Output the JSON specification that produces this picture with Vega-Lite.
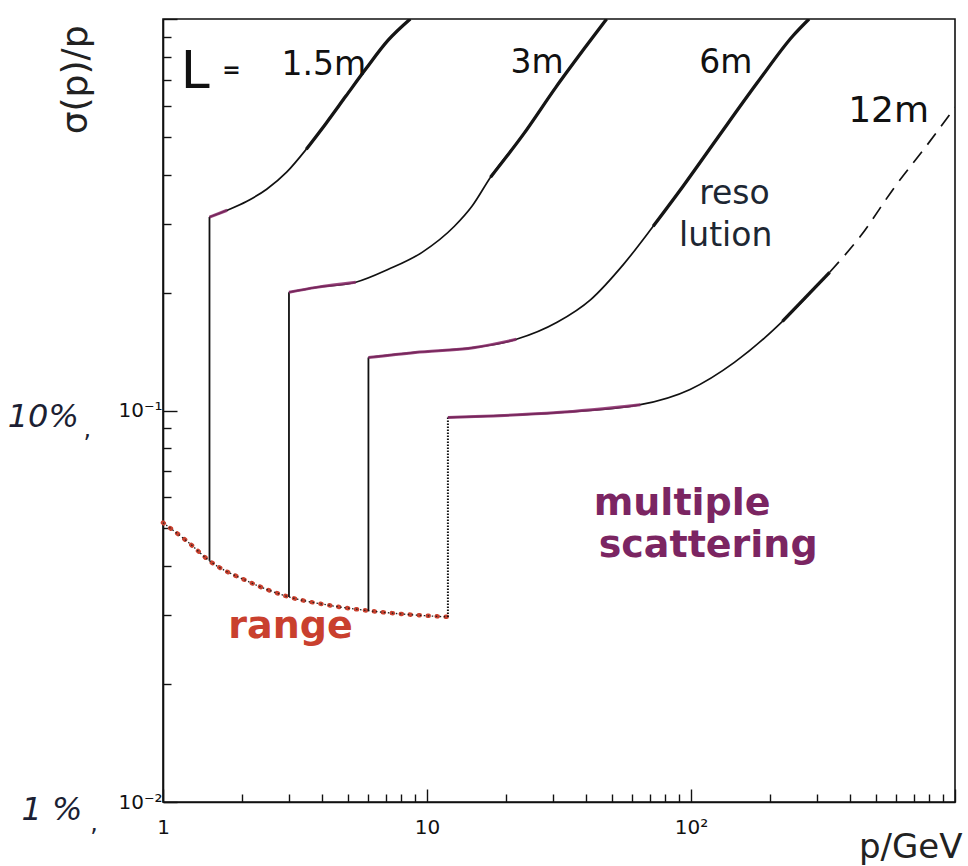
{
  "$schema": "https://vega.github.io/schema/vega-lite/v6.json",
  "width": 792,
  "height": 783,
  "autosize": "none",
  "padding": {"left": 163, "top": 19, "right": 13, "bottom": 64},
  "background": "white",
  "config": {
    "view": {"stroke": "#111", "strokeWidth": 1.6},
    "axis": {"grid": false, "domainColor": "#111", "domainWidth": 1.6, "tickColor": "#111", "tickWidth": 1.4, "labelColor": "#111", "titleColor": "#222", "labelOverlap": false, "labelFlush": false, "labelBound": false, "labelFont": "DejaVu Sans", "labelFontSize": 20}
  },
  "datasets": {
    "curves": [
      {"id": "1.5m", "k": "drop", "o": 0, "p": 1.5, "s": 0.0413},
      {"id": "1.5m", "k": "drop", "o": 1, "p": 1.5, "s": 0.312},
      {"id": "3m", "k": "drop", "o": 0, "p": 3, "s": 0.0334},
      {"id": "3m", "k": "drop", "o": 1, "p": 3, "s": 0.2004},
      {"id": "6m", "k": "drop", "o": 0, "p": 6, "s": 0.0308},
      {"id": "6m", "k": "drop", "o": 1, "p": 6, "s": 0.1366},
      {"id": "12m", "k": "stop", "o": 0, "p": 12, "s": 0.0297},
      {"id": "12m", "k": "stop", "o": 1, "p": 12, "s": 0.096},
      {"id": "1.5m", "k": "res", "p": 1.5, "s": 0.312},
      {"id": "1.5m", "k": "res", "p": 1.75, "s": 0.3247},
      {"id": "1.5m", "k": "res", "p": 2.08, "s": 0.3424},
      {"id": "1.5m", "k": "res", "p": 2.47, "s": 0.3674},
      {"id": "1.5m", "k": "res", "p": 2.94, "s": 0.4062},
      {"id": "1.5m", "k": "res", "p": 3.49, "s": 0.4651},
      {"id": "1.5m", "k": "res", "p": 4.15, "s": 0.542},
      {"id": "1.5m", "k": "res", "p": 4.93, "s": 0.6355},
      {"id": "1.5m", "k": "res", "p": 5.86, "s": 0.745},
      {"id": "1.5m", "k": "res", "p": 7.14, "s": 0.884},
      {"id": "1.5m", "k": "res", "p": 8.64, "s": 1.0},
      {"id": "3m", "k": "res", "p": 3, "s": 0.2004},
      {"id": "3m", "k": "res", "p": 3.81, "s": 0.2063},
      {"id": "3m", "k": "res", "p": 5.37, "s": 0.2126},
      {"id": "3m", "k": "res", "p": 7.14, "s": 0.2294},
      {"id": "3m", "k": "res", "p": 9.58, "s": 0.2535},
      {"id": "3m", "k": "res", "p": 12.7, "s": 0.2955},
      {"id": "3m", "k": "res", "p": 14.8, "s": 0.3324},
      {"id": "3m", "k": "res", "p": 17.4, "s": 0.3944},
      {"id": "3m", "k": "res", "p": 23.2, "s": 0.508},
      {"id": "3m", "k": "res", "p": 30.8, "s": 0.67},
      {"id": "3m", "k": "res", "p": 39.3, "s": 0.838},
      {"id": "3m", "k": "res", "p": 47.9, "s": 1.0},
      {"id": "6m", "k": "res", "p": 6, "s": 0.1366},
      {"id": "6m", "k": "res", "p": 9.02, "s": 0.1407},
      {"id": "6m", "k": "res", "p": 15.2, "s": 0.1449},
      {"id": "6m", "k": "res", "p": 21.8, "s": 0.152},
      {"id": "6m", "k": "res", "p": 31.1, "s": 0.168},
      {"id": "6m", "k": "res", "p": 41.7, "s": 0.192},
      {"id": "6m", "k": "res", "p": 55.5, "s": 0.2362},
      {"id": "6m", "k": "res", "p": 71.9, "s": 0.2955},
      {"id": "6m", "k": "res", "p": 93.3, "s": 0.374},
      {"id": "6m", "k": "res", "p": 125, "s": 0.493},
      {"id": "6m", "k": "res", "p": 179, "s": 0.69},
      {"id": "6m", "k": "res", "p": 243, "s": 0.905},
      {"id": "6m", "k": "res", "p": 280, "s": 1.0},
      {"id": "12m", "k": "res", "p": 12, "s": 0.096},
      {"id": "12m", "k": "res", "p": 15.2, "s": 0.0965},
      {"id": "12m", "k": "res", "p": 31.1, "s": 0.0988},
      {"id": "12m", "k": "res", "p": 64.3, "s": 0.1035},
      {"id": "12m", "k": "res", "p": 99.2, "s": 0.1132},
      {"id": "12m", "k": "res", "p": 146, "s": 0.1327},
      {"id": "12m", "k": "res", "p": 191, "s": 0.1537},
      {"id": "12m", "k": "res", "p": 222, "s": 0.1689},
      {"id": "12m", "k": "res", "p": 335, "s": 0.2254},
      {"id": "12m", "k": "ext", "p": 335, "s": 0.2254},
      {"id": "12m", "k": "ext", "p": 438, "s": 0.2786},
      {"id": "12m", "k": "ext", "p": 594, "s": 0.374},
      {"id": "12m", "k": "ext", "p": 778, "s": 0.4733},
      {"id": "12m", "k": "ext", "p": 1000, "s": 0.595},
      {"id": "range", "k": "range", "p": 1, "s": 0.0517},
      {"id": "range", "k": "range", "p": 1.25, "s": 0.046},
      {"id": "range", "k": "range", "p": 1.5, "s": 0.0413},
      {"id": "range", "k": "range", "p": 2.08, "s": 0.0367},
      {"id": "range", "k": "range", "p": 3, "s": 0.0334},
      {"id": "range", "k": "range", "p": 4.15, "s": 0.0319},
      {"id": "range", "k": "range", "p": 6, "s": 0.0308},
      {"id": "range", "k": "range", "p": 8.64, "s": 0.0301},
      {"id": "range", "k": "range", "p": 12, "s": 0.0297},
      {"id": "t1.5", "k": "trace", "p": 3.49, "s": 0.4651},
      {"id": "t1.5", "k": "trace", "p": 4.15, "s": 0.542},
      {"id": "t1.5", "k": "trace", "p": 4.93, "s": 0.6355},
      {"id": "t1.5", "k": "trace", "p": 5.86, "s": 0.745},
      {"id": "t1.5", "k": "trace", "p": 7.14, "s": 0.884},
      {"id": "t1.5", "k": "trace", "p": 8.64, "s": 1.0},
      {"id": "t3", "k": "trace", "p": 17.4, "s": 0.3944},
      {"id": "t3", "k": "trace", "p": 23.2, "s": 0.508},
      {"id": "t3", "k": "trace", "p": 30.8, "s": 0.67},
      {"id": "t3", "k": "trace", "p": 39.3, "s": 0.838},
      {"id": "t3", "k": "trace", "p": 47.9, "s": 1.0},
      {"id": "t6", "k": "trace", "p": 71.9, "s": 0.2955},
      {"id": "t6", "k": "trace", "p": 93.3, "s": 0.374},
      {"id": "t6", "k": "trace", "p": 125, "s": 0.493},
      {"id": "t6", "k": "trace", "p": 179, "s": 0.69},
      {"id": "t6", "k": "trace", "p": 243, "s": 0.905},
      {"id": "t6", "k": "trace", "p": 280, "s": 1.0},
      {"id": "t12", "k": "trace", "p": 222, "s": 0.1689},
      {"id": "t12", "k": "trace", "p": 335, "s": 0.2254},
      {"id": "m1.5", "k": "ms", "p": 1.5, "s": 0.312},
      {"id": "m1.5", "k": "ms", "p": 1.75, "s": 0.3247},
      {"id": "m3", "k": "ms", "p": 3, "s": 0.2004},
      {"id": "m3", "k": "ms", "p": 3.81, "s": 0.2063},
      {"id": "m3", "k": "ms", "p": 5.37, "s": 0.2126},
      {"id": "m6", "k": "ms", "p": 6, "s": 0.1366},
      {"id": "m6", "k": "ms", "p": 9.02, "s": 0.1407},
      {"id": "m6", "k": "ms", "p": 15.2, "s": 0.1449},
      {"id": "m6", "k": "ms", "p": 21.8, "s": 0.152},
      {"id": "m12", "k": "ms", "p": 12, "s": 0.096},
      {"id": "m12", "k": "ms", "p": 15.2, "s": 0.0965},
      {"id": "m12", "k": "ms", "p": 31.1, "s": 0.0988},
      {"id": "m12", "k": "ms", "p": 64.3, "s": 0.1035}
    ],
    "notes": [
      {"t": "L", "c": "big", "p": 1.168, "s": 0.666},
      {"t": "=", "c": "eq", "p": 1.678, "s": 0.7106},
      {"t": "1.5m", "c": "len", "p": 2.814, "s": 0.7192},
      {"t": "3m", "c": "len", "p": 20.7, "s": 0.7277},
      {"t": "6m", "c": "len", "p": 107.4, "s": 0.7277},
      {"t": "12m", "c": "len12", "p": 393.9, "s": 0.5453},
      {"t": "reso", "c": "reso", "p": 107.4, "s": 0.3364},
      {"t": "lution", "c": "reso", "p": 90.1, "s": 0.2627},
      {"t": "range", "c": "range", "p": 1.767, "s": 0.02627},
      {"t": "multiple", "c": "ms", "p": 42.8, "s": 0.0542},
      {"t": "scattering", "c": "ms", "p": 44.7, "s": 0.0423},
      {"t": "10%", "c": "pct", "p": 0.258, "s": 0.091},
      {"t": ",", "c": "comma", "p": 0.5, "s": 0.0855},
      {"t": "1 %", "c": "pct", "p": 0.2913, "s": 0.00899},
      {"t": ",", "c": "comma", "p": 0.53, "s": 0.00845}
    ]
  },
  "encoding": {
    "x": {
      "field": "p", "type": "quantitative",
      "scale": {"type": "log", "domain": [1, 1000]},
      "axis": {
        "values": [1,2,3,4,5,6,7,8,9,10,20,30,40,50,60,70,80,90,100,200,300,400,500,600,700,800,900,1000],
        "labelExpr": "datum.value == 1 ? '1' : datum.value == 10 ? '10' : datum.value == 100 ? '10²' : ''",
        "tickSize": {"condition": {"test": "datum.value == 1 || datum.value == 10 || datum.value == 100 || datum.value == 1000", "value": -13}, "value": -8},
        "labelFont": "DejaVu Sans", "labelFontSize": 20, "labelPadding": 28,
        "title": "p/GeV", "titleFont": "DejaVu Sans", "titleFontSize": 34, "titleFontWeight": "normal",
        "titleAnchor": "end", "titleAlign": "right", "titleBaseline": "alphabetic", "titleX": 799, "titleY": 55
      }
    },
    "y": {
      "field": "s", "type": "quantitative",
      "scale": {"type": "log", "domain": [0.01, 1]},
      "axis": {
        "values": [0.01,0.02,0.03,0.04,0.05,0.06,0.07,0.08,0.09,0.1,0.2,0.3,0.4,0.5,0.6,0.7,0.8,0.9,1],
        "labelExpr": "datum.value == 0.1 ? '10⁻¹' : datum.value == 0.01 ? '10⁻²' : ''",
        "tickSize": {"condition": {"test": "datum.value == 0.01 || datum.value == 0.1 || datum.value == 1", "value": -14}, "value": -8},
        "labelFont": "DejaVu Sans", "labelFontSize": 20, "labelPadding": 15, "labelBaseline": "middle",
        "title": "σ(p)/p", "titleFont": "DejaVu Sans", "titleFontSize": 36, "titleFontWeight": "normal",
        "titleAnchor": "end", "titleAlign": "right", "titleBaseline": "middle", "titleX": -88, "titleY": 6
      }
    }
  },
  "layer": [
    {
      "data": {"name": "curves"},
      "transform": [{"filter": "datum.k === 'range'"}],
      "mark": {"type": "line", "color": "#c9402e", "strokeWidth": 4.5, "strokeDash": [1, 8], "strokeCap": "round", "interpolate": "monotone"},
      "encoding": {"detail": {"field": "id"}}
    },
    {
      "data": {"name": "curves"},
      "transform": [{"filter": "datum.k === 'range'"}],
      "mark": {"type": "line", "color": "#222", "strokeWidth": 1.3, "strokeDash": [1.5, 2.5], "interpolate": "monotone"},
      "encoding": {"detail": {"field": "id"}}
    },
    {
      "data": {"name": "curves"},
      "transform": [{"filter": "datum.k === 'drop'"}],
      "mark": {"type": "line", "color": "#111", "strokeWidth": 1.8},
      "encoding": {"detail": {"field": "id"}, "order": {"field": "o"}}
    },
    {
      "data": {"name": "curves"},
      "transform": [{"filter": "datum.k === 'stop'"}],
      "mark": {"type": "line", "color": "#111", "strokeWidth": 2, "strokeDash": [1.5, 1.5]},
      "encoding": {"detail": {"field": "id"}, "order": {"field": "o"}}
    },
    {
      "data": {"name": "curves"},
      "transform": [{"filter": "datum.k === 'res'"}],
      "mark": {"type": "line", "color": "#111", "strokeWidth": 1.7, "clip": true, "interpolate": "monotone"},
      "encoding": {"detail": {"field": "id"}}
    },
    {
      "data": {"name": "curves"},
      "transform": [{"filter": "datum.k === 'ext'"}],
      "mark": {"type": "line", "color": "#111", "strokeWidth": 1.7, "strokeDash": [14, 9], "clip": true, "interpolate": "monotone"},
      "encoding": {"detail": {"field": "id"}}
    },
    {
      "data": {"name": "curves"},
      "transform": [{"filter": "datum.k === 'trace'"}],
      "mark": {"type": "line", "color": "#151515", "strokeWidth": 3.3, "clip": true, "interpolate": "monotone"},
      "encoding": {"detail": {"field": "id"}}
    },
    {
      "data": {"name": "curves"},
      "transform": [{"filter": "datum.k === 'ms'"}],
      "mark": {"type": "line", "color": "#8a2a6a", "strokeWidth": 3, "opacity": 0.85, "interpolate": "monotone"},
      "encoding": {"detail": {"field": "id"}}
    },
    {
      "data": {"name": "notes"},
      "transform": [{"filter": "datum.c === 'big'"}],
      "mark": {"type": "text", "align": "left", "baseline": "alphabetic", "font": "DejaVu Sans", "fontSize": 52, "color": "#111"},
      "encoding": {"text": {"field": "t"}}
    },
    {
      "data": {"name": "notes"},
      "transform": [{"filter": "datum.c === 'eq'"}],
      "mark": {"type": "text", "align": "left", "baseline": "alphabetic", "font": "DejaVu Sans", "fontSize": 22, "fontWeight": "bold", "color": "#111"},
      "encoding": {"text": {"field": "t"}}
    },
    {
      "data": {"name": "notes"},
      "transform": [{"filter": "datum.c === 'len'"}],
      "mark": {"type": "text", "align": "left", "baseline": "alphabetic", "font": "DejaVu Sans", "fontSize": 33, "color": "#111"},
      "encoding": {"text": {"field": "t"}}
    },
    {
      "data": {"name": "notes"},
      "transform": [{"filter": "datum.c === 'len12'"}],
      "mark": {"type": "text", "align": "left", "baseline": "alphabetic", "font": "DejaVu Sans", "fontSize": 36, "color": "#111"},
      "encoding": {"text": {"field": "t"}}
    },
    {
      "data": {"name": "notes"},
      "transform": [{"filter": "datum.c === 'reso'"}],
      "mark": {"type": "text", "align": "left", "baseline": "alphabetic", "font": "DejaVu Sans", "fontSize": 33, "color": "#1d2733"},
      "encoding": {"text": {"field": "t"}}
    },
    {
      "data": {"name": "notes"},
      "transform": [{"filter": "datum.c === 'range'"}],
      "mark": {"type": "text", "align": "left", "baseline": "alphabetic", "font": "DejaVu Sans", "fontSize": 38, "fontWeight": "bold", "color": "#c9402e"},
      "encoding": {"text": {"field": "t"}}
    },
    {
      "data": {"name": "notes"},
      "transform": [{"filter": "datum.c === 'ms'"}],
      "mark": {"type": "text", "align": "left", "baseline": "alphabetic", "font": "DejaVu Sans", "fontSize": 38, "fontWeight": "bold", "color": "#7b2562"},
      "encoding": {"text": {"field": "t"}}
    },
    {
      "data": {"name": "notes"},
      "transform": [{"filter": "datum.c === 'pct'"}],
      "mark": {"type": "text", "align": "left", "baseline": "alphabetic", "font": "DejaVu Sans", "fontSize": 32, "fontStyle": "italic", "color": "#1c1f33"},
      "encoding": {"text": {"field": "t"}}
    },
    {
      "data": {"name": "notes"},
      "transform": [{"filter": "datum.c === 'comma'"}],
      "mark": {"type": "text", "align": "left", "baseline": "alphabetic", "font": "DejaVu Sans", "fontSize": 24, "color": "#1c1f33"},
      "encoding": {"text": {"field": "t"}}
    }
  ]
}
